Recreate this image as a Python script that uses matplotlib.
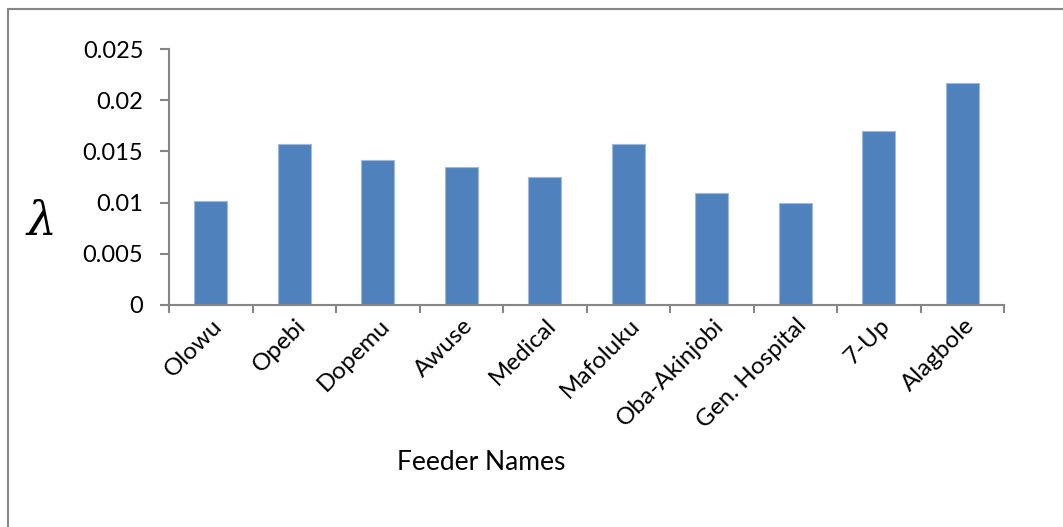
import matplotlib.pyplot as plt
from matplotlib.patches import Rectangle
import matplotlib.transforms as mtransforms

# Failure rate per feeder
feeders = ['Olowu', 'Opebi', 'Dopemu', 'Awuse', 'Medical', 'Mafoluku',
           'Oba-Akinjobi', 'Gen. Hospital', '7-Up', 'Alagbole']
rates = [0.0102, 0.0157, 0.0142, 0.0135, 0.0125, 0.0157,
         0.0109, 0.0100, 0.0170, 0.0217]
y_ticks = [0, 0.005, 0.01, 0.015, 0.02, 0.025]
y_tick_labels = ['0', '0.005', '0.01', '0.015', '0.02', '0.025']

plt.rcParams['font.family'] = ['Lato', 'DejaVu Sans']
plt.rcParams['mathtext.fontset'] = 'dejavuserif'
axis_grey = '#868686'

fig = plt.figure(figsize=(10.63, 5.27), dpi=100)
ax = fig.add_axes([0.159, 0.4213, 0.7855, 0.4857])

x = list(range(len(feeders)))
ax.bar(x, rates, width=0.4, color='#4F81BD', edgecolor='#9DB9DD', linewidth=0.8, zorder=2)

ax.set_xlim(-0.5, len(feeders) - 0.5)
ax.set_ylim(0, 0.025)
ax.set_yticks(y_ticks)
ax.set_yticklabels(y_tick_labels, fontsize=17)

# category ticks sit between bars, labels go at bar centres
ax.set_xticks([i - 0.5 for i in range(len(feeders) + 1)])
ax.set_xticklabels([])
offset = mtransforms.ScaledTranslation(6 / 72, 0, fig.dpi_scale_trans)
for i, name in enumerate(feeders):
    ax.text(i, -0.0017, name, rotation=45, ha='right', va='center',
            rotation_mode='anchor', fontsize=17.5,
            transform=ax.transData + offset)

for side in ['top', 'right']:
    ax.spines[side].set_visible(False)
for side in ['left', 'bottom']:
    ax.spines[side].set_color(axis_grey)
    ax.spines[side].set_linewidth(1.5)
ax.tick_params(axis='y', direction='out', length=6.5, width=1.5, color=axis_grey, pad=12)
ax.tick_params(axis='x', direction='out', length=6, width=1.5, color=axis_grey)

fig.text(40 / 1063, 1 - 222 / 527, r'$\lambda$', fontsize=34, ha='center', va='center')
fig.text(481 / 1063, 1 - 462 / 527, 'Feeder Names', fontsize=19, ha='center', va='center')

# chart frame
fig.patches.append(Rectangle((8 / 1063, -0.1), 1.2, 1 - 9 / 527 + 0.1,
                             transform=fig.transFigure, fill=False,
                             edgecolor=axis_grey, linewidth=1.5))

plt.savefig('out.png', dpi=100)
